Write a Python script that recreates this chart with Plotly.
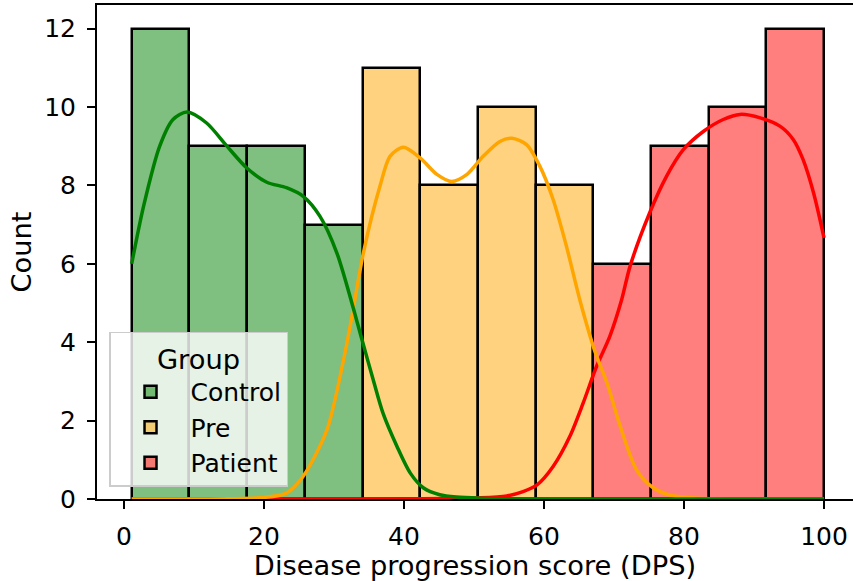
import plotly.graph_objects as go

# ---- data ----
groups = ["Control", "Pre", "Patient"]
bin_edges = [1.1, 9.34, 17.58, 25.83, 34.07, 42.31, 50.55, 58.8, 67.04, 75.28, 83.52, 91.76, 100.0]

control_counts = [12, 9, 9, 7, 0, 0, 0, 0, 0, 0, 0, 0]
pre_counts = [0, 0, 0, 0, 11, 8, 10, 8, 0, 0, 0, 0]
patient_counts = [0, 0, 0, 0, 0, 0, 0, 0, 6, 9, 10, 12]

control_kde_x = [1.1, 2.8, 5.1, 7.0, 9.0, 11.8, 14.7, 17.5, 20.4, 23.2, 25.6, 28.0, 30.4, 33.2, 34.0, 35.6, 37.0, 39.0, 40.9, 42.8, 45.1, 47.5, 50.9, 55.0, 65.0, 80.0, 100.0]
control_kde_y = [6.0, 7.47, 9.0, 9.68, 9.87, 9.59, 9.0, 8.45, 8.08, 7.94, 7.72, 7.21, 6.28, 4.58, 4.06, 3.04, 2.19, 1.34, 0.66, 0.28, 0.11, 0.05, 0.02, 0.005, 0.0, 0.0, 0.0]

pre_kde_x = [1.1, 10.0, 15.0, 19.4, 23.2, 25.6, 29.0, 31.3, 32.5, 34.2, 36.6, 38.0, 39.9, 42.3, 44.7, 46.8, 49.0, 51.3, 53.7, 55.4, 57.5, 59.4, 61.3, 63.2, 65.1, 67.3, 69.0, 70.9, 73.2, 75.5, 78.0, 82.0, 88.0, 100.0]
pre_kde_y = [0.0, 0.0, 0.005, 0.03, 0.15, 0.58, 1.77, 3.5, 4.6, 6.28, 8.0, 8.74, 8.97, 8.70, 8.28, 8.10, 8.28, 8.74, 9.12, 9.20, 9.04, 8.49, 7.64, 6.45, 5.09, 3.75, 2.96, 1.85, 0.75, 0.3, 0.1, 0.02, 0.0, 0.0]

patient_kde_x = [1.1, 30.0, 40.0, 46.0, 50.9, 54.7, 57.0, 59.0, 61.3, 63.7, 65.6, 67.5, 69.4, 71.1, 72.3, 75.1, 77.5, 79.9, 82.8, 85.6, 88.0, 90.9, 93.7, 95.6, 97.0, 98.5, 100.0]
patient_kde_y = [0.0, 0.0, 0.005, 0.015, 0.03, 0.08, 0.19, 0.36, 0.83, 1.60, 2.45, 3.38, 4.15, 5.09, 5.94, 7.30, 8.23, 8.91, 9.38, 9.68, 9.81, 9.72, 9.51, 9.17, 8.66, 7.81, 6.66]

x_ticks = [0, 20, 40, 60, 80, 100]
y_ticks = [0, 2, 4, 6, 8, 10, 12]

# ---- styling ----
fill_colors = {"Control": "rgba(0,128,0,0.5)", "Pre": "rgba(255,165,0,0.5)", "Patient": "rgba(255,0,0,0.5)"}
line_colors = {"Control": "#008000", "Pre": "#FFA500", "Patient": "#FF0000"}
FONT = "DejaVu Sans"
FS_TICK = 25
FS_LABEL = 27.3

centers = [(a + b) / 2 for a, b in zip(bin_edges[:-1], bin_edges[1:])]
widths = [b - a for a, b in zip(bin_edges[:-1], bin_edges[1:])]

counts = {"Control": control_counts, "Pre": pre_counts, "Patient": patient_counts}
kdes = {
    "Control": (control_kde_x, control_kde_y),
    "Pre": (pre_kde_x, pre_kde_y),
    "Patient": (patient_kde_x, patient_kde_y),
}

fig = go.Figure()

# bars (last group drawn first, like seaborn); legend order kept via legendrank
for rank, g in zip([3, 2, 1], list(reversed(groups))):
    xs = [c for c, n in zip(centers, counts[g]) if n > 0]
    ws = [w for w, n in zip(widths, counts[g]) if n > 0]
    ys = [n for n in counts[g] if n > 0]
    fig.add_trace(go.Bar(
        x=xs, y=ys, width=ws, name=g, legendrank=rank,
        marker=dict(color=fill_colors[g], line=dict(color="black", width=2.5)),
    ))

for g in reversed(groups):
    kx, ky = kdes[g]
    fig.add_trace(go.Scatter(
        x=kx, y=ky, mode="lines", showlegend=False,
        line=dict(color=line_colors[g], width=3.5, shape="spline", smoothing=0.8),
    ))

fig.update_layout(
    width=853, height=581,
    margin=dict(l=97, r=0, t=5, b=82),
    paper_bgcolor="white", plot_bgcolor="white",
    barmode="overlay", bargap=0,
    font=dict(family=FONT, size=FS_TICK, color="black"),
    legend=dict(
        title=dict(text="Group", side="top center", font=dict(size=FS_LABEL)),
        x=0.0159, y=0.0243, xanchor="left", yanchor="bottom",
        bgcolor="rgba(255,255,255,0.8)", bordercolor="#cccccc", borderwidth=1.5,
        font=dict(size=FS_TICK), traceorder="normal", itemwidth=70,
    ),
)

fig.update_xaxes(
    range=[-3.857, 104.14], tickvals=x_ticks, ticks="outside", ticklen=8, tickwidth=2,
    tickcolor="black", showline=True, linecolor="black", linewidth=2, mirror=True,
    showgrid=False, zeroline=False, ticklabelstandoff=6,
    title=dict(text="Disease progression score (DPS)", standoff=4, font=dict(size=FS_LABEL)),
)
fig.update_yaxes(
    range=[0, 12.6], tickvals=y_ticks, ticks="outside", ticklen=8, tickwidth=2,
    tickcolor="black", showline=True, linecolor="black", linewidth=2, mirror=False,
    showgrid=False, zeroline=False, ticklabelstandoff=6,
    title=dict(text="Count", standoff=5, font=dict(size=FS_LABEL)),
)

fig.write_html(
    "out.html",
    config={"displayModeBar": False},
    post_script="document.body.style.margin='0';document.body.style.overflow='hidden';",
)
